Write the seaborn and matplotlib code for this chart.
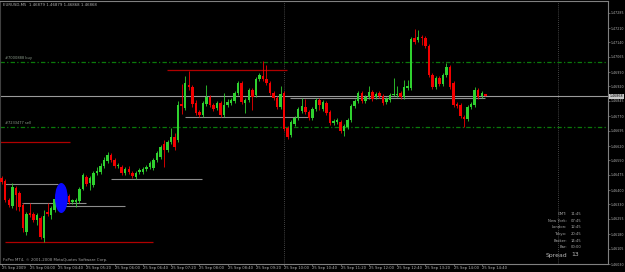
import matplotlib
matplotlib.use("Agg")
import matplotlib.pyplot as plt
import seaborn as sns
import numpy as np
from matplotlib.patches import Ellipse

# ------------------------------------------------------------
# EURUSD M5, 25 Sep 2009, 03:20 .. 14:45
# ------------------------------------------------------------
opens = [
    1.46460, 1.46445, 1.46350, 1.46320, 1.46410, 1.46385, 1.46325, 1.46190, 1.46285, 1.46280,
    1.46250, 1.46260, 1.46160, 1.46290, 1.46275, 1.46300, 1.46350, 1.46385, 1.46405, 1.46370,
    1.46340, 1.46340, 1.46345, 1.46405, 1.46465, 1.46435, 1.46425, 1.46485, 1.46490, 1.46520,
    1.46545, 1.46575, 1.46550, 1.46520, 1.46515, 1.46485, 1.46505, 1.46485, 1.46465, 1.46490,
    1.46490, 1.46505, 1.46515, 1.46510, 1.46550, 1.46565, 1.46630, 1.46600, 1.46640, 1.46665,
    1.46650, 1.46830, 1.46810, 1.46925, 1.46915, 1.46835, 1.46790, 1.46775, 1.46830, 1.46865,
    1.46825, 1.46810, 1.46835, 1.46775, 1.46825, 1.46835, 1.46845, 1.46885, 1.46935, 1.46835,
    1.46850, 1.46900, 1.46875, 1.46955, 1.46970, 1.46955, 1.46935, 1.46885, 1.46860, 1.46815,
    1.46885, 1.46710, 1.46675, 1.46730, 1.46760, 1.46795, 1.46815, 1.46790, 1.46760, 1.46805,
    1.46850, 1.46805, 1.46835, 1.46790, 1.46735, 1.46740, 1.46740, 1.46695, 1.46715, 1.46750,
    1.46820, 1.46845, 1.46885, 1.46845, 1.46865, 1.46890, 1.46865, 1.46885, 1.46870, 1.46840,
    1.46850, 1.46875, 1.46875, 1.46885, 1.46865, 1.46910, 1.46910, 1.47160, 1.47150, 1.47165,
    1.47160, 1.47120, 1.46975, 1.46915, 1.46960, 1.46930, 1.46975, 1.47015, 1.46935, 1.46830,
    1.46825, 1.46765, 1.46755, 1.46815, 1.46825, 1.46900, 1.46870, 1.46879,
]
highs = [
    1.46470, 1.46455, 1.46360, 1.46435, 1.46420, 1.46395, 1.46335, 1.46290, 1.46335, 1.46290,
    1.46285, 1.46270, 1.46300, 1.46335, 1.46320, 1.46365, 1.46395, 1.46415, 1.46415, 1.46380,
    1.46355, 1.46360, 1.46415, 1.46485, 1.46475, 1.46470, 1.46495, 1.46515, 1.46535, 1.46565,
    1.46590, 1.46585, 1.46560, 1.46535, 1.46525, 1.46515, 1.46520, 1.46495, 1.46495, 1.46510,
    1.46515, 1.46525, 1.46545, 1.46560, 1.46595, 1.46625, 1.46650, 1.46650, 1.46710, 1.46685,
    1.46845, 1.46930, 1.46970, 1.46995, 1.46925, 1.46850, 1.46800, 1.46845, 1.46925, 1.46875,
    1.46835, 1.46845, 1.46845, 1.46885, 1.46855, 1.46860, 1.46895, 1.46945, 1.46945, 1.46860,
    1.46910, 1.46910, 1.46965, 1.46985, 1.47045, 1.47025, 1.46945, 1.46895, 1.46870, 1.46920,
    1.46895, 1.46720, 1.46750, 1.46770, 1.46815, 1.46860, 1.46855, 1.46800, 1.46815, 1.46860,
    1.46860, 1.46850, 1.46845, 1.46800, 1.46755, 1.46760, 1.46750, 1.46730, 1.46760, 1.46830,
    1.46855, 1.46895, 1.46895, 1.46875, 1.46920, 1.46900, 1.46890, 1.46895, 1.46880, 1.46865,
    1.46885, 1.46960, 1.46920, 1.46895, 1.46950, 1.46950, 1.47165, 1.47205, 1.47200, 1.47175,
    1.47170, 1.47130, 1.46985, 1.46970, 1.46970, 1.46985, 1.47035, 1.47025, 1.46945, 1.46840,
    1.46835, 1.46775, 1.46825, 1.46840, 1.46915, 1.46910, 1.46895, 1.46879,
]
lows = [
    1.46430, 1.46340, 1.46315, 1.46310, 1.46300, 1.46295, 1.46190, 1.46175, 1.46265, 1.46240,
    1.46225, 1.46155, 1.46140, 1.46270, 1.46255, 1.46290, 1.46340, 1.46370, 1.46355, 1.46330,
    1.46330, 1.46315, 1.46335, 1.46400, 1.46420, 1.46400, 1.46415, 1.46475, 1.46480, 1.46510,
    1.46535, 1.46540, 1.46510, 1.46510, 1.46475, 1.46475, 1.46480, 1.46460, 1.46455, 1.46480,
    1.46480, 1.46495, 1.46505, 1.46500, 1.46540, 1.46555, 1.46515, 1.46590, 1.46630, 1.46600,
    1.46640, 1.46780, 1.46800, 1.46900, 1.46815, 1.46775, 1.46765, 1.46765, 1.46820, 1.46815,
    1.46795, 1.46800, 1.46765, 1.46765, 1.46815, 1.46825, 1.46835, 1.46875, 1.46830, 1.46785,
    1.46840, 1.46800, 1.46865, 1.46945, 1.46945, 1.46925, 1.46875, 1.46850, 1.46805, 1.46805,
    1.46695, 1.46655, 1.46665, 1.46720, 1.46750, 1.46785, 1.46780, 1.46750, 1.46750, 1.46795,
    1.46800, 1.46795, 1.46775, 1.46725, 1.46725, 1.46730, 1.46685, 1.46670, 1.46705, 1.46740,
    1.46810, 1.46835, 1.46835, 1.46835, 1.46855, 1.46845, 1.46855, 1.46860, 1.46825, 1.46830,
    1.46840, 1.46870, 1.46865, 1.46855, 1.46855, 1.46900, 1.46900, 1.47130, 1.47140, 1.47125,
    1.47110, 1.46965, 1.46905, 1.46905, 1.46920, 1.46920, 1.46965, 1.46905, 1.46815, 1.46810,
    1.46760, 1.46715, 1.46745, 1.46805, 1.46815, 1.46855, 1.46860, 1.46868,
]
closes = [
    1.46440, 1.46350, 1.46325, 1.46415, 1.46375, 1.46315, 1.46210, 1.46280, 1.46275, 1.46250,
    1.46275, 1.46165, 1.46270, 1.46280, 1.46310, 1.46355, 1.46385, 1.46405, 1.46365, 1.46340,
    1.46350, 1.46350, 1.46405, 1.46475, 1.46430, 1.46460, 1.46485, 1.46495, 1.46520, 1.46550,
    1.46575, 1.46550, 1.46520, 1.46525, 1.46485, 1.46505, 1.46490, 1.46470, 1.46485, 1.46500,
    1.46505, 1.46515, 1.46535, 1.46550, 1.46585, 1.46615, 1.46600, 1.46640, 1.46665, 1.46615,
    1.46825, 1.46820, 1.46935, 1.46915, 1.46830, 1.46785, 1.46775, 1.46835, 1.46865, 1.46825,
    1.46805, 1.46835, 1.46775, 1.46825, 1.46840, 1.46850, 1.46885, 1.46935, 1.46840, 1.46850,
    1.46900, 1.46865, 1.46955, 1.46975, 1.46955, 1.46935, 1.46885, 1.46860, 1.46815, 1.46880,
    1.46705, 1.46665, 1.46740, 1.46760, 1.46805, 1.46820, 1.46790, 1.46760, 1.46805, 1.46850,
    1.46825, 1.46840, 1.46785, 1.46735, 1.46745, 1.46750, 1.46695, 1.46720, 1.46750, 1.46820,
    1.46845, 1.46885, 1.46845, 1.46865, 1.46890, 1.46855, 1.46880, 1.46870, 1.46835, 1.46855,
    1.46875, 1.46880, 1.46880, 1.46865, 1.46915, 1.46920, 1.47155, 1.47140, 1.47165, 1.47160,
    1.47120, 1.46975, 1.46915, 1.46960, 1.46930, 1.46975, 1.47015, 1.46915, 1.46825, 1.46820,
    1.46770, 1.46755, 1.46815, 1.46830, 1.46900, 1.46865, 1.46885, 1.46868,
]

# time axis: a label every 8 bars (40 minutes)
time_label_bars = [0, 8, 16, 24, 32, 40, 48, 56, 64, 72, 80, 88, 96, 104, 112, 120, 128, 136]
time_labels = ["25 Sep 2009", "25 Sep 04:00", "25 Sep 04:40", "25 Sep 05:20", "25 Sep 06:00",
               "25 Sep 06:40", "25 Sep 07:20", "25 Sep 08:00", "25 Sep 08:40", "25 Sep 09:20",
               "25 Sep 10:00", "25 Sep 10:40", "25 Sep 11:20", "25 Sep 12:00", "25 Sep 12:40",
               "25 Sep 13:20", "25 Sep 14:00", "25 Sep 14:40"]

price_labels = ["1.46030", "1.46105", "1.46180", "1.46255", "1.46330", "1.46400",
                "1.46475", "1.46550", "1.46620", "1.46695", "1.46770", "1.46845",
                "1.46920", "1.46990", "1.47065", "1.47140", "1.47210", "1.47285"]

bid_price = 1.46868
order_prices = [1.47040, 1.46715]
order_labels = ["#7000888 buy", "#7233477 sell"]

# drawn trend/level lines: price, first bar, last bar
red_levels = [1.47000, 1.46140, 1.46640]
red_from = [46.8, 0.9, -0.5]
red_to = [80.8, 42.9, 19.3]
gray_levels = [1.46430, 1.46335, 1.46320, 1.46455, 1.46765, 1.46862]
gray_from = [0.9, 5.8, 16.8, 31.0, 51.9, 81.7]
gray_to = [15.9, 23.9, 34.9, 56.7, 86.8, 137.0]

separator_bars = [80, 157.6]
marker_bar, marker_price = 16.9, 1.46360

clock_names = ["GMT:", "New York:", "London:", "Tokyo:", "Broker:", "Bar:"]
clock_values = ["11:45", "07:45", "12:45", "20:45", "14:45", "00:00"]
spread = 13

# ------------------------------------------------------------
sns.set_theme(style="dark", rc={
    "axes.facecolor": "black",
    "figure.facecolor": "black",
    "axes.edgecolor": "#808080",
    "axes.grid": False,
})
plt.rcParams["font.family"] = ["DejaVu Sans"]

W, H = 625, 272
fig = plt.figure(figsize=(W / 100, H / 100), dpi=100)
# plot area in pixels: x 0..608, y 1..264
ax = fig.add_axes([0 / W, (H - 264) / H, 608 / W, 263 / H])

n = len(opens)
idx = np.arange(n)
o = np.array(opens)
c = np.array(closes)
up = c >= o
GREEN, RED = "#2fd12f", "#f20000"
cols = np.where(up, GREEN, RED)

# wicks then bodies
ax.vlines(idx, lows, highs, colors=cols, lw=0.6, zorder=3)
body = np.maximum(np.abs(c - o), 0.00004)
ax.bar(idx, body, bottom=np.minimum(o, c), width=0.7, color=cols, linewidth=0, zorder=4)

# bid line and order lines
ax.axhline(bid_price, color="#9a9a9a", lw=0.8, zorder=2)
for p in order_prices:
    ax.axhline(p, color="#0b7a0b", lw=0.9, ls=(0, (3.5, 1.8, 1, 1.8)), zorder=2)
for p, lab in zip(order_prices, order_labels):
    ax.text(0.8, p + 0.00008, lab, color="#8a9a8a", fontsize=2.6, va="bottom", ha="left")

for p, a, b in zip(red_levels, red_from, red_to):
    ax.hlines(p, a, b, color="#b00000", lw=0.9, zorder=2)
for p, a, b in zip(gray_levels, gray_from, gray_to):
    ax.hlines(p, a, b, color="#8c8c8c", lw=0.8, zorder=2)

for b in separator_bars:
    ax.axvline(b, color="#5a5a5a", lw=0.6, ls=(0, (1, 1.5)), zorder=1)

ax.add_patch(Ellipse((marker_bar, marker_price), 3.6, 0.00150,
                     facecolor="#0a0aff", edgecolor="none", zorder=5))

ax.set_xlim(-0.48, 171.76)
ax.set_ylim(1.46030, 1.47345)

ax.set_xticks(time_label_bars)
ax.set_xticklabels(time_labels, ha="left", fontsize=2.7, color="#b0b0b0")
ax.tick_params(axis="x", length=1.5, width=0.5, color="#808080", pad=0.3, bottom=True)

ax.yaxis.tick_right()
ax.set_yticks([float(s) for s in price_labels])
ax.set_yticklabels(price_labels, fontsize=2.3, color="#b0b0b0")
ax.tick_params(axis="y", length=1.2, width=0.5, color="#808080", pad=0.5, right=True)

for s in ax.spines.values():
    s.set_linewidth(0.8)
    s.set_color("#808080")
ax.spines["left"].set_color("#404040")

# bid price box on the price scale
ax.text(1.0025, bid_price, f"{bid_price:.5f}", transform=ax.get_yaxis_transform(),
        fontsize=2.3, color="black", va="center", ha="left",
        bbox=dict(boxstyle="square,pad=0.25", facecolor="#c8c8c8", edgecolor="none"))

# header and footer text
fig.text(3 / W, 1 - 5 / H, "EURUSD,M5  1.46879 1.46879 1.46868 1.46868",
         fontsize=2.8, color="#b0b0b0", va="center", ha="left")
fig.text(3 / W, 1 - 260 / H, "FxPro MT4, \u00a9 2001-2008 MetaQuotes Software Corp.",
         fontsize=2.8, color="#a0a0a0", va="center", ha="left")

for k, (name, val) in enumerate(zip(clock_names, clock_values)):
    yy = 1 - (214 + 6.7 * k) / H
    fig.text(567 / W, yy, name, fontsize=2.7, color="#a8a8a8", ha="right", va="center")
    fig.text(571 / W, yy, val, fontsize=2.7, color="#a8a8a8", ha="left", va="center")
fig.text(567 / W, 1 - 255 / H, "Spread", fontsize=4.4, color="#b8b8b8", ha="right", va="center")
fig.text(571 / W, 1 - 255 / H, str(spread), fontsize=4.4, color="#b8b8b8", ha="left", va="center")

fig.savefig("out.png", dpi=100, facecolor="black")
